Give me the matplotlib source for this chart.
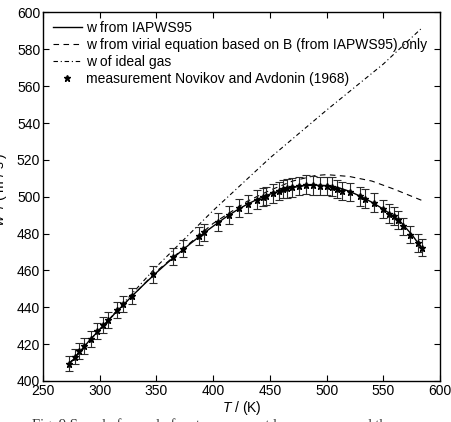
import matplotlib.pyplot as plt
from matplotlib.lines import Line2D

plt.rcParams['font.family'] = ['Liberation Sans', 'DejaVu Sans']
plt.rcParams['mathtext.fontset'] = 'custom'
plt.rcParams['mathtext.it'] = 'Liberation Sans:italic'
plt.rcParams['mathtext.rm'] = 'Liberation Sans'

# IAPWS95 curve
T_iapws = [273, 280, 290, 300, 310, 320, 330, 340, 350, 360, 370, 380, 390, 400,
           410, 420, 430, 440, 450, 460, 470, 480, 490, 500, 510, 520, 530, 540,
           550, 560, 565, 570, 575, 580, 584]
w_iapws = [409.0, 414.0, 421.3, 428.0, 434.5, 440.8, 447.0, 453.0, 458.8, 464.3,
           469.5, 474.6, 479.4, 484.0, 488.4, 492.4, 495.9, 498.9, 501.4, 503.4,
           505.0, 506.0, 506.3, 506.0, 505.0, 503.0, 500.2, 497.0, 493.3, 489.0,
           486.6, 483.0, 479.6, 475.4, 472.0]

# virial equation (B only)
T_vir = [273, 300, 350, 400, 430, 450, 470, 490, 500, 520, 540, 560, 584]
w_vir = [409.2, 428.1, 459.5, 485.5, 497.5, 503.5, 508.5, 511.5, 512.0, 511.0,
         508.5, 504.0, 498.0]

# ideal gas
T_id = [273, 300, 350, 400, 450, 500, 550, 583]
w_id = [409.5, 428.0, 462.0, 492.5, 521.0, 547.0, 572.0, 591.0]

# Novikov and Avdonin (1968)
T_meas = [272.5, 278.2, 282.0, 286.4, 292.0, 297.9, 302.6, 307.6, 315.5, 320.8,
          328.5, 347.3, 365.0, 373.7, 387.8, 391.8, 404.6, 414.2, 423.1, 430.5,
          439.0, 444.3, 446.6, 452.5, 458.0, 461.9, 465.0, 469.8, 475.6, 482.0,
          488.0, 494.0, 500.8, 504.5, 509.0, 514.0, 521.0, 529.5, 533.5, 542.0,
          550.1, 555.0, 559.2, 563.3, 567.7, 573.6, 580.2, 583.9]
w_meas = [409.3, 413.2, 416.3, 419.0, 422.8, 427.1, 430.2, 433.2, 438.6, 441.8,
          446.2, 458.0, 467.4, 471.8, 478.8, 480.6, 486.5, 490.2, 493.7, 496.1,
          498.4, 499.8, 500.5, 501.8, 503.0, 504.2, 504.5, 505.1, 505.8, 506.5,
          506.3, 505.8, 505.8, 505.4, 504.3, 503.2, 502.5, 500.2, 499.0, 496.8,
          493.5, 490.9, 489.4, 487.4, 483.9, 479.5, 475.0, 472.3]
w_err = [4.1, 4.1, 4.2, 4.2, 4.2, 4.3, 4.3, 4.3, 4.4, 4.4,
         4.5, 4.6, 4.7, 4.7, 4.8, 4.8, 4.9, 4.9, 4.9, 5.0,
         5.0, 5.0, 5.0, 5.0, 5.0, 5.0, 5.0, 5.1, 5.1, 5.1,
         5.1, 5.1, 5.1, 5.1, 5.0, 5.0, 5.0, 5.0, 5.0, 5.0,
         4.9, 4.9, 4.9, 4.9, 4.8, 4.8, 4.8, 4.7]

fig = plt.figure(figsize=(4.51, 4.22), dpi=100)
ax = fig.add_axes([0.0953, 0.0972, 0.8803, 0.8732])

ax.plot(T_iapws, w_iapws, color='black', lw=1.0)
ax.plot(T_vir, w_vir, color='black', lw=0.8, dashes=(5, 4))
ax.plot(T_id, w_id, color='black', lw=0.8, dashes=(4, 2.5, 1, 2.5))
ax.errorbar(T_meas, w_meas, yerr=w_err, fmt='*', color='black', ms=4.5,
            ecolor='#2a2a2a', elinewidth=0.8, capsize=3.2, capthick=0.8)

ax.set_xlim(250, 600)
ax.set_ylim(400, 600)
ax.set_xticks(range(250, 601, 50))
ax.set_yticks(range(400, 601, 20))
ax.tick_params(direction='in', length=4, width=0.8, top=True, right=True,
               labelsize=10, pad=2)
for s in ax.spines.values():
    s.set_linewidth(1.0)

ax.set_xlabel(r'$T$ / (K)', fontsize=10)
ax.set_ylabel(r'$w$  / ( m / s )', fontsize=10)
ax.xaxis.set_label_coords(0.5, -0.048)
ax.yaxis.set_label_coords(-0.085, 0.52)

handles = [
    Line2D([], [], color='black', lw=1.0),
    Line2D([], [], color='black', lw=0.8, dashes=(5, 4)),
    Line2D([], [], color='black', lw=0.8, dashes=(4, 2.5, 1, 2.5)),
    Line2D([], [], color='black', ls='none', marker='*', ms=4.5),
]
labels = ['w from IAPWS95',
          'w from virial equation based on B (from IAPWS95) only',
          'w of ideal gas',
          'measurement Novikov and Avdonin (1968)']
ax.legend(handles, labels, loc='upper left', bbox_to_anchor=(0.025, 0.978),
          frameon=False, fontsize=10, borderpad=0, borderaxespad=0,
          handlelength=2.1, handletextpad=0.3, labelspacing=0.22)

fig.text(0.07, 0.01, 'Fig. 9 Speed of sound of water vapour at low pressure and the',
         fontsize=10.5, family='Liberation Serif', va='top', color='#333333')

fig.savefig('out.png', dpi=100)
